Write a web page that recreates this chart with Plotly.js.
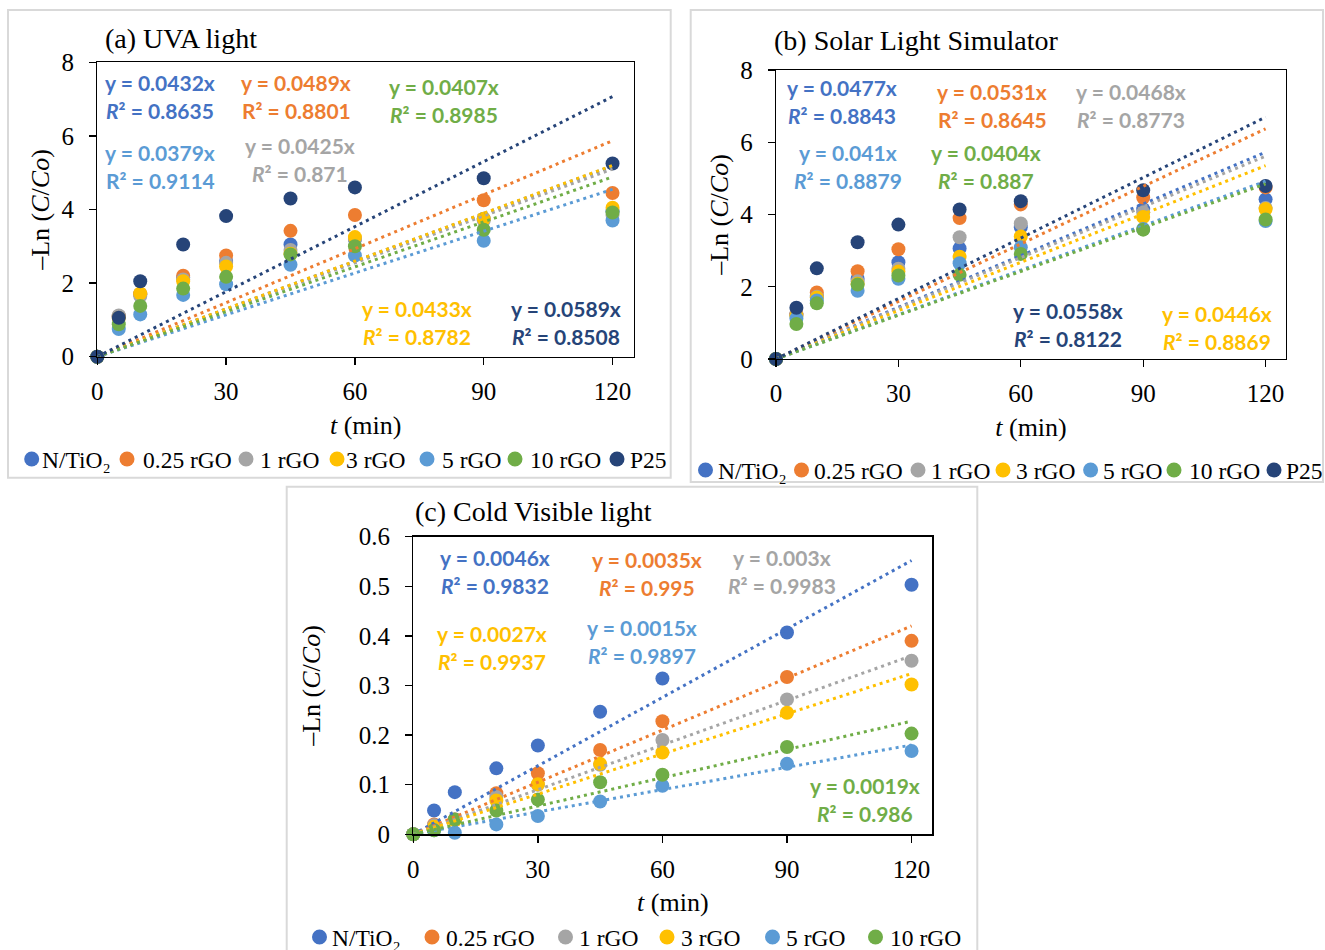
<!DOCTYPE html>
<html><head><meta charset="utf-8">
<script src="https://cdn.plot.ly/plotly-3.0.1.min.js"></script>
<style>html,body{margin:0;padding:0;background:#fff;} #chart{width:1325px;height:950px;}</style>
</head><body><div id="chart"></div>
<script>
// ---------- DATA ----------
const times = [0, 5, 10, 20, 30, 45, 60, 90, 120];
const seriesNames = ['N/TiO₂', '0.25 rGO', '1 rGO', '3 rGO', '5 rGO', '10 rGO', 'P25'];
const seriesColors = ['#4472C4', '#ED7D31', '#A5A5A5', '#FFC000', '#5B9BD5', '#70AD47', '#264478'];

// (a) UVA light, -Ln(C/Co)
const uvaNTiO2 = [0, 1.10, 1.70, 2.15, 2.60, 3.05, 3.20, 3.75, 3.95];
const uva025rGO = [0, 1.10, 1.70, 2.20, 2.75, 3.42, 3.85, 4.25, 4.45];
const uva1rGO = [0, 1.12, 1.65, 2.10, 2.55, 2.90, 3.20, 3.70, 3.85];
const uva3rGO = [0, 1.05, 1.72, 2.05, 2.45, 2.80, 3.25, 3.75, 4.05];
const uva5rGO = [0, 0.75, 1.15, 1.68, 1.97, 2.50, 2.75, 3.15, 3.70];
const uva10rGO = [0, 0.88, 1.38, 1.85, 2.17, 2.78, 3.00, 3.45, 3.92];
const uvaP25 = [0, 1.06, 2.05, 3.05, 3.82, 4.30, 4.60, 4.85, 5.25];
const uvaSlopes = [0.0432, 0.0489, 0.0425, 0.0433, 0.0379, 0.0407, 0.0589];
const uvaR2 = ['0.8635', '0.8801', '0.871', '0.8782', '0.9114', '0.8985', '0.8508'];

// (b) Solar Light Simulator
const solNTiO2 = [0, 1.25, 1.75, 2.22, 2.68, 3.06, 3.65, 4.15, 4.42];
const sol025rGO = [0, 1.25, 1.84, 2.43, 3.04, 3.90, 4.28, 4.47, 4.75];
const sol1rGO = [0, 1.22, 1.72, 2.15, 2.50, 3.37, 3.75, 4.06, 4.18];
const sol3rGO = [0, 1.20, 1.70, 2.08, 2.42, 2.83, 3.39, 3.93, 4.15];
const sol5rGO = [0, 1.12, 1.62, 1.89, 2.22, 2.65, 3.09, 3.60, 3.82];
const sol10rGO = [0, 0.97, 1.54, 2.06, 2.31, 2.33, 2.91, 3.58, 3.86];
const solP25 = [0, 1.42, 2.51, 3.23, 3.72, 4.14, 4.37, 4.67, 4.79];
const solSlopes = [0.0477, 0.0531, 0.0468, 0.0446, 0.041, 0.0404, 0.0558];
const solR2 = ['0.8843', '0.8645', '0.8773', '0.8869', '0.8879', '0.887', '0.8122'];

// (c) Cold Visible light
const visNTiO2 = [0, 0.048, 0.085, 0.133, 0.179, 0.247, 0.314, 0.407, 0.503];
const vis025rGO = [0, 0.020, 0.030, 0.083, 0.123, 0.170, 0.228, 0.317, 0.390];
const vis1rGO = [0, 0.018, 0.030, 0.075, 0.100, 0.140, 0.190, 0.272, 0.350];
const vis3rGO = [0, 0.015, 0.028, 0.068, 0.101, 0.142, 0.165, 0.245, 0.302];
const vis5rGO = [0, 0.008, 0.003, 0.020, 0.037, 0.066, 0.098, 0.142, 0.168];
const vis10rGO = [0, 0.008, 0.030, 0.048, 0.070, 0.105, 0.120, 0.176, 0.203];
const visSlopes = [0.0046, 0.0035, 0.003, 0.0027, 0.0015, 0.0019];
const visR2 = ['0.9832', '0.995', '0.9983', '0.9937', '0.9897', '0.986'];

const xTickVals = [0, 30, 60, 90, 120];
const yTickValsAB = [0, 2, 4, 6, 8];
const yTickValsC = [0, 0.1, 0.2, 0.3, 0.4, 0.5, 0.6];
const yTickTextC = ['0', '0.1', '0.2', '0.3', '0.4', '0.5', '0.6'];
const panelTitles = ['(a) UVA light', '(b) Solar Light Simulator', '(c) Cold Visible light'];

// ---------- LAYOUT HELPERS ----------
const W = 1325, H = 950;
const px = x => x / W;
const py = y => 1 - y / H;
const serif = 'Liberation Serif, Times New Roman, serif';
const eqFont = 'Lato, Carlito, Calibri, sans-serif';

const panels = [
  {data: [uvaNTiO2, uva025rGO, uva1rGO, uva3rGO, uva5rGO, uva10rGO, uvaP25], slopes: uvaSlopes, r2: uvaR2,
   xa: 'x', ya: 'y',
   eqPos: [[160, 96], [296, 97], [300, 160], [417, 322], [160, 167], [444, 100], [566, 322]],
   rItalic: [true, false, true, true, false, true, true],
   legDots: [31.7, 127, 246, 337, 427, 515, 617], legText: [40, 141, 258, 344, 440, 528, 628], legY: 459,
   title: [103, 38]},
  {data: [solNTiO2, sol025rGO, sol1rGO, sol3rGO, sol5rGO, sol10rGO, solP25], slopes: solSlopes, r2: solR2,
   xa: 'x2', ya: 'y2',
   eqPos: [[842, 102], [992, 105], [1131, 105], [1217, 327], [848, 167], [986, 167], [1068, 324]],
   rItalic: [true, false, true, true, true, true, true],
   legDots: [705.5, 801.5, 918, 1003, 1090.6, 1174, 1274], legText: [716, 812, 929, 1014, 1101, 1187, 1284], legY: 470,
   title: [772, 40]},
  {data: [visNTiO2, vis025rGO, vis1rGO, vis3rGO, vis5rGO, vis10rGO], slopes: visSlopes, r2: visR2,
   xa: 'x3', ya: 'y3',
   eqPos: [[495, 571], [647, 573], [782, 571], [492, 647], [642, 641], [865, 799]],
   rItalic: [true, true, true, true, true, true],
   legDots: [319.5, 432, 565.5, 667, 772.5, 875.5], legText: [330, 443.5, 577, 679, 783.5, 888], legY: 937,
   title: [413, 511]}
];

const traces = [];
const annotations = [];
const shapes = [];

panels.forEach((p, pi) => {
  // markers
  p.data.forEach((vals, si) => {
    traces.push({
      type: 'scatter', mode: 'markers', x: times, y: vals, xaxis: p.xa, yaxis: p.ya,
      name: seriesNames[si], showlegend: false, cliponaxis: false,
      marker: {size: 14, color: seriesColors[si]}
    });
  });
  // trendlines (linear through origin, y = k t)
  p.slopes.forEach((k, si) => {
    const tx = [times[0], times[times.length - 1]];
    traces.push({
      type: 'scatter', mode: 'lines', x: tx, y: tx.map(t => k * t), xaxis: p.xa, yaxis: p.ya,
      name: 'Linear (' + seriesNames[si] + ')', showlegend: false, hoverinfo: 'skip',
      line: {color: seriesColors[si], width: 3, dash: '3px,4px'}
    });
  });
  // equations (two single-line labels each)
  p.slopes.forEach((k, si) => {
    const r = p.rItalic[si] ? '<i>R</i>²' : 'R²';
    const cx = p.eqPos[si][0], cy = p.eqPos[si][1];
    const lines = ['<b>y = ' + k + 'x</b>', '<b>' + r + ' = ' + p.r2[si] + '</b>'];
    lines.forEach((txt, li) => {
      annotations.push({
        xref: 'paper', yref: 'paper', x: px(cx), y: py(cy + (li === 0 ? -14 : 14)),
        xanchor: 'center', yanchor: 'middle', align: 'center', showarrow: false,
        text: txt, font: {family: eqFont, size: 21, color: seriesColors[si]}
      });
    });
  });
  // panel title
  annotations.push({
    xref: 'paper', yref: 'paper', x: px(p.title[0]), y: py(p.title[1]),
    xanchor: 'left', yanchor: 'middle', showarrow: false,
    text: panelTitles[pi], font: {family: serif, size: 28, color: '#000'}
  });
  // legend row
  p.data.forEach((vals, si) => {
    const cx = p.legDots[si], cy = p.legY, r = 7.5;
    shapes.push({type: 'circle', xref: 'paper', yref: 'paper',
      x0: px(cx - r), x1: px(cx + r), y0: py(cy + r), y1: py(cy - r),
      fillcolor: seriesColors[si], line: {width: 0}});
    annotations.push({
      xref: 'paper', yref: 'paper', x: px(p.legText[si]), y: py(cy + 1),
      xanchor: 'left', yanchor: 'middle', showarrow: false,
      text: seriesNames[si], font: {family: serif, size: 23.5, color: '#000'}
    });
  });
});

// panel borders
[[8, 10, 670.7, 477.7], [690.7, 10, 1323, 482], [286.7, 486.7, 977.3, 960]].forEach(b => {
  shapes.push({type: 'rect', xref: 'paper', yref: 'paper', layer: 'below',
    x0: px(b[0]), x1: px(b[2]), y0: py(b[3]), y1: py(b[1]),
    line: {color: '#D9D9D9', width: 2}, fillcolor: 'rgba(0,0,0,0)'});
});

const tickFont = {family: serif, size: 25, color: '#000'};
function xAxis(dom, anchor) {
  return {domain: dom, anchor: anchor, range: [0, 125], tickvals: xTickVals,
    ticks: 'outside', ticklen: 7, tickwidth: 1.3, tickcolor: '#000', ticklabelstandoff: 5,
    showline: true, mirror: true, linecolor: '#000', linewidth: 1.3,
    showgrid: false, zeroline: false, tickfont: tickFont,
    title: {text: '<i>t</i> (min)', font: {family: serif, size: 26, color: '#000'}, standoff: 11}};
}
function yAxis(dom, anchor, range, vals, text, standoff) {
  const a = {domain: dom, anchor: anchor, range: range, tickvals: vals,
    ticks: 'outside', ticklen: 7, tickwidth: 1.3, tickcolor: '#000', ticklabelstandoff: 10,
    showline: true, mirror: true, linecolor: '#000', linewidth: 1.3,
    showgrid: false, zeroline: false, tickfont: tickFont,
    title: {text: '–Ln (<i>C</i>/<i>Co</i>)', font: {family: serif, size: 26, color: '#000'}, standoff: standoff}};
  if (text) a.ticktext = text;
  return a;
}

const layout = {
  width: W, height: H, margin: {l: 0, r: 0, t: 0, b: 0},
  paper_bgcolor: '#fff', plot_bgcolor: '#fff', showlegend: false,
  xaxis: xAxis([px(97.3), px(634)], 'y'),
  yaxis: yAxis([py(356.7), py(62.3)], 'x', [0, 8], yTickValsAB, null, 4),
  xaxis2: xAxis([px(776), px(1286)], 'y2'),
  yaxis2: yAxis([py(359), py(70)], 'x2', [0, 8], yTickValsAB, null, 4),
  xaxis3: xAxis([px(413.3), px(932.3)], 'y3'),
  yaxis3: yAxis([py(834.3), py(536.7)], 'x3', [0, 0.6], yTickValsC, yTickTextC, 30),
  annotations: annotations,
  shapes: shapes
};

Plotly.newPlot('chart', traces, layout, {displayModeBar: false, staticPlot: true});
</script>
</body></html>
